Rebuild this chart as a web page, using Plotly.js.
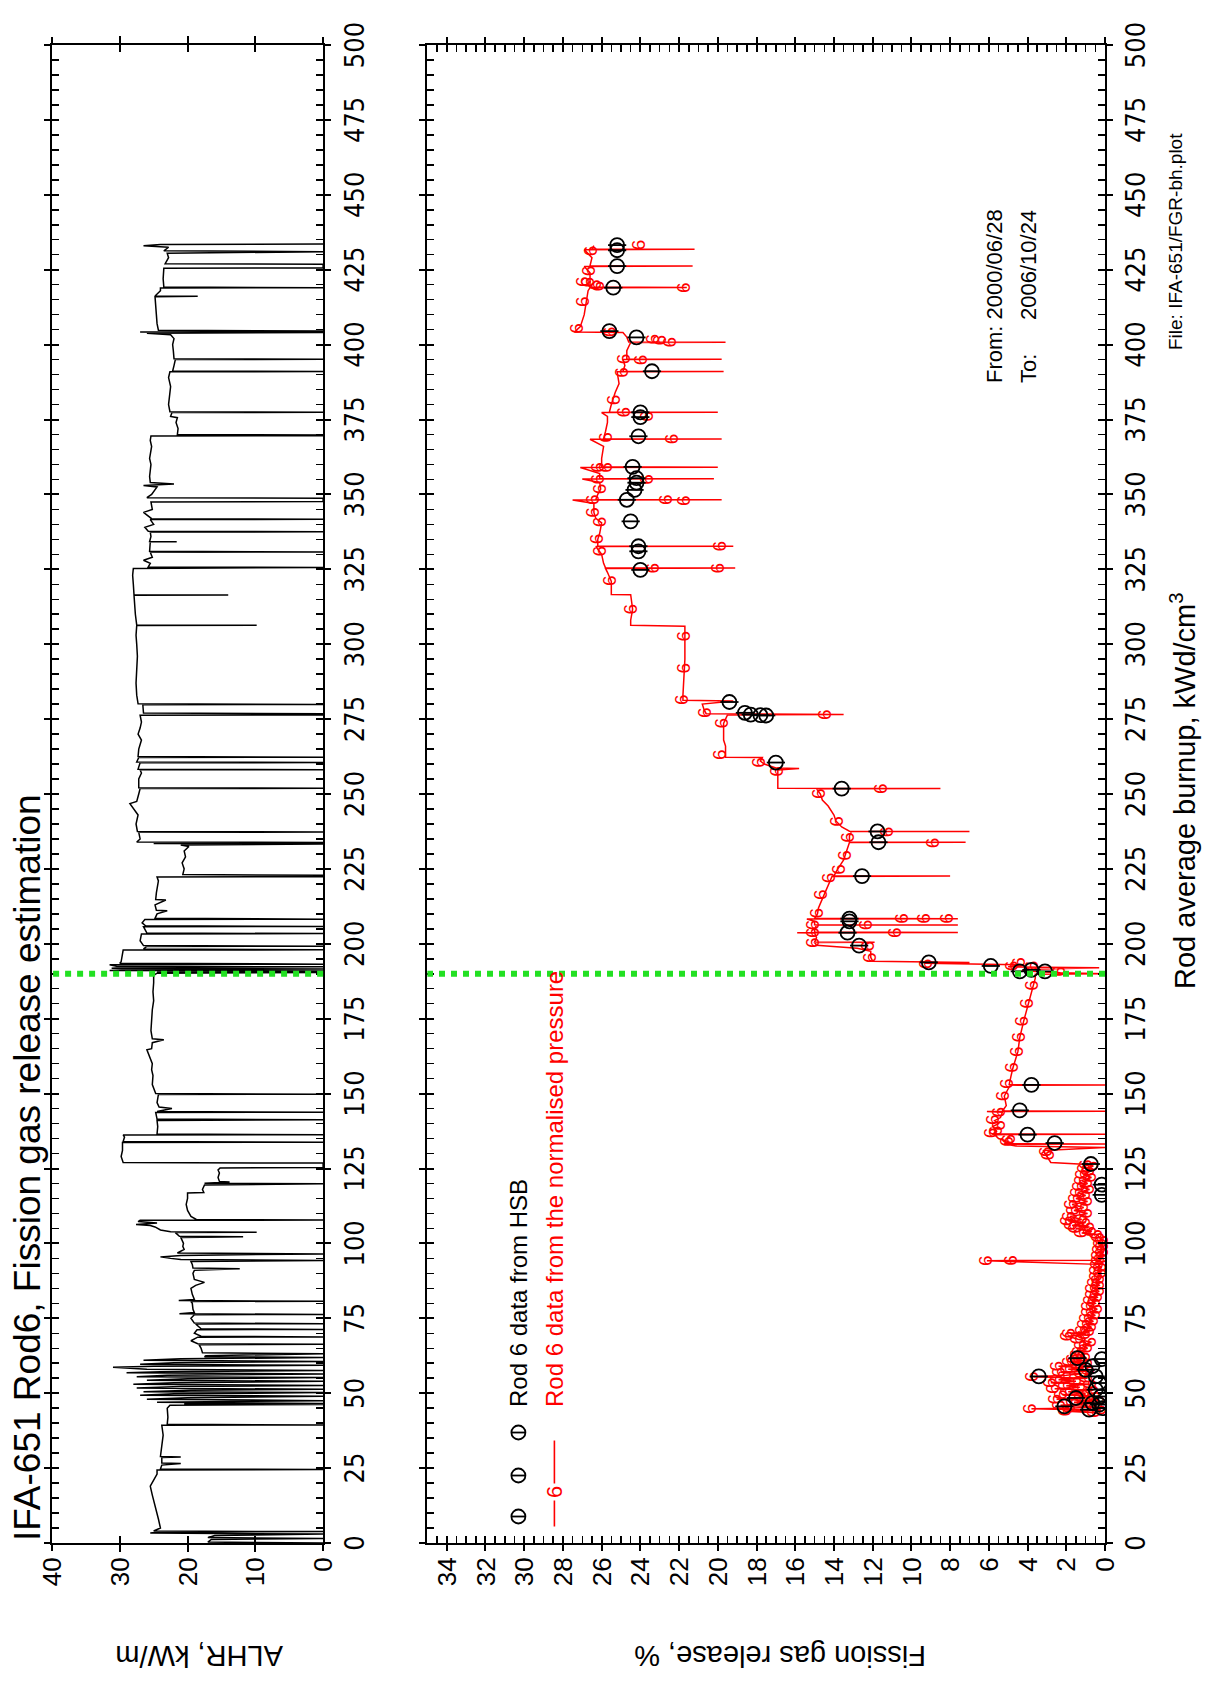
<!DOCTYPE html>
<html><head><meta charset="utf-8">
<script src="https://cdn.plot.ly/plotly-3.0.1.min.js"></script>
<style>
html,body{margin:0;padding:0;background:#fff;width:1210px;height:1686px;overflow:hidden;}
#wrap{position:absolute;left:0;top:0;width:1686px;height:1210px;transform-origin:0 0;transform:translateY(1686px) rotate(-90deg);}
</style></head>
<body><div id="wrap"></div>
<script>
// ---------- DATA (burnup kWd/cm3, value) ----------
const alhrPoints = [[0,0],[0.3,17],[1.2,16.5],[1.5,0],[1.8,17],[2.5,16],[3.0,0],[3.3,25.5],[3.6,24.5],[3.8,0],[4.0,25],[5,24],[8,24.3],[12,24.8],[16,25.2],[19,25.5],[21,25],[23,24.5],[24.4,24.5],[24.5,0],[24.7,24],[26,23.8],[26.5,21],[26.7,23.8],[28.5,23.8],[28.7,21],[28.9,24],[32,23.8],[36,23.6],[39.3,23.8],[39.4,0],[39.6,23],[42,22.9],[45,23],[46,22.6],[46.2,0],[46.4,20.5],[46.6,0],[47,24.5],[47.5,0],[48,26],[48.5,20],[49,0],[49.3,27],[49.8,22],[50.2,0],[50.5,26.5],[51,19.5],[51.3,0],[51.7,27.5],[52.2,21],[52.6,0],[53,28],[53.5,22],[54,0],[54.3,26],[54.8,20],[55.2,0],[55.5,27.5],[56,23],[56.4,0],[56.8,29],[57.2,24],[57.6,0],[58,26],[58.7,31],[59,25],[59.3,0],[59.7,27],[60.2,22],[60.6,0],[61,26.5],[61.5,21],[61.9,0],[62.2,17.5],[62.5,17.3],[63.2,0],[63.5,17.8],[65,18],[66.2,18.3],[66.3,0],[66.5,18.5],[67.5,19.5],[68.7,18.5],[68.8,0],[69,18],[70,19],[71.2,18.6],[71.3,0],[71.5,18],[72.5,18.5],[73.1,18.8],[73.2,0],[73.4,19],[75,19.5],[76.2,19],[76.3,0],[76.5,21.2],[76.9,19],[78,19.2],[80,19.3],[80.6,19.5],[80.7,0],[80.9,21.3],[81.3,19],[83,19.3],[85,19.5],[86,18.8],[87,17.5],[88,19],[90,19.2],[91,19],[91.5,12.3],[91.8,19.2],[93,19.3],[94,19.5],[94.3,0],[94.6,21],[95,22.5],[95.5,24],[96,21],[96.5,0],[96.8,21.5],[97.5,20.8],[98,20.5],[99,20.7],[100,20.6],[101,20.8],[102,21],[102.2,11.8],[102.4,21.2],[103.6,21.8],[103.7,9.8],[103.9,22.5],[104.5,24],[105.5,24.8],[106,25.5],[106.3,27.6],[106.8,24.5],[107.3,27.3],[107.7,27],[107.8,0],[108,18.7],[109,19.5],[111,20],[113,20.2],[115,20],[116.8,20],[117,17.6],[118,17.8],[119.5,17.5],[119.9,0],[120.1,17.5],[120.5,13.8],[120.7,15.3],[122,15.5],[123.5,15.3],[124.5,15.5],[125.2,15.2],[125.3,0],[126.8,0],[127,29.5],[129,29.8],[131,29.6],[133.7,29.6],[133.8,0],[134,29.5],[135.5,29.3],[136.2,29.5],[136.3,0],[136.5,24.5],[139,24.4],[141,24.5],[141.3,0],[141.5,24.5],[143.7,24.7],[143.8,0],[144,24.5],[145,22.3],[145.5,24.2],[147,24.5],[149.7,24.3],[149.8,0],[150,24.7],[153,25.2],[156,25.1],[158,25.3],[160,25.2],[162,25.5],[164.6,26],[165,25.3],[167,25.2],[168,23.5],[168.3,25.2],[171,25.4],[175,25.3],[178,25.2],[181,25],[184,25.1],[187,25],[189.5,25],[190.2,24.5],[190.4,0],[190.6,24.5],[190.9,0],[191.1,31.5],[191.4,28],[191.6,0],[191.8,31.2],[192.1,29],[192.3,0],[192.5,30.5],[193,31.5],[193.2,0],[193.5,30],[194,29.8],[196,29.7],[197.9,29.5],[198,0],[198.3,26.5],[199.1,26],[199.2,0],[199.4,26.5],[201,27],[203.3,26.8],[203.4,0],[203.6,26],[205.7,26.5],[205.8,0],[206,26.2],[207,26.7],[208.1,26.3],[208.2,0],[208.5,24.8],[210,24.5],[211,23],[211.2,24.6],[213,24.8],[214.6,23.2],[214.8,24.7],[217,24.6],[219,24.4],[221,24.3],[222.3,24.5],[222.4,0],[222.9,0],[223.1,20.7],[225,20.5],[227,20.8],[229,20.3],[231,20.5],[232.5,19.8],[233,21],[233.3,0],[233.5,25],[233.8,0],[234,27.5],[235,27],[237.2,27.2],[237.3,0],[237.5,27.4],[240,27.6],[243,27.3],[246.8,28.5],[247.5,27.5],[250,27.2],[251.8,27],[251.9,0],[252.1,27.2],[255,27.2],[257,26.8],[258,27],[258.1,0],[258.3,27.3],[260.4,27],[260.5,0],[260.7,27.5],[262.2,27.2],[262.3,0],[262.5,27.3],[265,27.2],[268,26.8],[270,27.3],[272,27],[274,26.8],[276.3,27],[276.4,0],[276.8,0],[277,26.5],[279.8,26.6],[279.9,0],[280.1,27.3],[283,27.5],[287,27.6],[292,27.5],[296,27.4],[300,27.5],[303,27.6],[306.2,27.5],[306.3,9.8],[306.4,27.5],[310,27.7],[314,27.8],[316.3,27.9],[316.4,14],[316.5,27.9],[320,28],[323,28.1],[325.3,28],[325.4,0],[325.6,0],[325.8,25.8],[327,25.5],[328,26.5],[329,25.2],[330.7,25.5],[330.8,0],[331,25.6],[334.1,25.5],[334.2,21.6],[334.3,25.6],[336,25.4],[337.4,25.5],[337.5,0],[337.7,25.8],[339,26.3],[340,25],[341.6,25.5],[341.7,0],[341.9,25.3],[344,26.5],[345,25.2],[347.5,25.4],[347.6,0],[348.7,0],[348.9,26],[350,25.3],[352.5,24.5],[353,26.5],[353.5,22],[354,25.5],[356,25.6],[358,25.5],[360,25.4],[362,25.6],[364,25.5],[366,25.3],[368,25.5],[369.5,25.4],[369.6,0],[369.8,0],[370,21.5],[372,21.4],[374,21.7],[375.6,21.5],[376,22.5],[377.3,22.3],[377.4,0],[377.6,22.6],[380,22.8],[383,22.7],[386,22.5],[389,22.8],[390.9,22.6],[391,0],[391.2,22.2],[393,22],[395,21.8],[395.1,0],[395.3,22],[398,22.1],[400,22.2],[402,22],[403.3,22.5],[403.8,26],[404,0],[404.2,27],[404.5,0],[404.8,24.3],[407,24.5],[410,24.6],[413,24.7],[416,24.8],[416.1,18.5],[416.2,24.8],[418,24],[418.9,24],[419,0],[419.2,23.5],[422,23.6],[425.5,23.5],[425.6,0],[426.8,0],[427,23.3],[429,22.8],[430.5,23],[431,0],[431.3,23.5],[432.5,22.8],[433,26.5],[433.4,24],[433.6,0]];

const fgrPoints = [[43.5,0.5],[44,2.0],[44.3,0.2],[44.8,3.8],[45,1.8],[45.5,0.4],[46,2.3],[46.5,0.8],[47,1.6],[47.5,0.3],[48,2.5],[48.5,1.2],[49,0.5],[49.5,2.2],[50,1.0],[50.5,1.9],[51,0.6],[51.5,2.6],[52,1.3],[52.5,2.0],[53,0.7],[53.5,2.8],[54,1.5],[54.5,2.4],[55,0.9],[55.5,3.7],[56,2.0],[56.5,1.2],[57,2.3],[57.5,0.8],[58,1.9],[58.5,1.1],[59,2.4],[59.5,1.4],[60,0.9],[60.5,1.8],[61,1.2],[61.5,1.6],[62,1.0],[63,1.4],[64,1.3],[65,0.9],[66,1.2],[67,0.7],[68,1.4],[69,1.9],[69.5,1.0],[70,1.8],[70.5,0.8],[71,1.1],[72,0.7],[73,1.0],[74,0.6],[75,0.9],[76,0.5],[77,0.8],[78,0.4],[79,0.8],[80,0.5],[81,0.7],[82,0.4],[83,0.6],[84,0.3],[85,0.6],[86,0.3],[87,0.5],[88,0.3],[89,0.4],[90,0.2],[91,0.4],[92,0.2],[93,0.35],[94.2,6.1],[94.3,4.8],[94.4,0.3],[95,0.15],[96,0.3],[97,0.1],[98,0.25],[99,0.1],[100,0.2],[101,0.1],[102,0.3],[103,0.4],[103.5,1.2],[104,0.7],[105,1.5],[105.5,0.8],[106,1.7],[107,1.0],[107.5,1.9],[108,1.2],[109,1.8],[110,0.9],[111,1.6],[112,1.1],[113,1.7],[114,0.9],[115,1.5],[116,1.0],[117,1.4],[118,0.8],[119,1.3],[120,0.9],[121,1.2],[122,0.7],[123,1.1],[124,0.8],[125,1.0],[125.8,0.6],[126.3,0.9],[127,2.8],[128,2.9],[129,3.0],[130,3.1],[131,3.2],[132,0],[132.5,4.6],[133.1,5.1],[133.2,0],[133.3,5.2],[134,5.0],[135,5.5],[136.3,5.7],[136.4,0],[136.5,5.8],[137.5,5.6],[139,5.8],[140,5.5],[141,5.7],[142,5.4],[143.8,5.3],[144,6.1],[144.1,0],[144.2,5.3],[146,5.1],[149.2,5.2],[152.8,4.9],[152.9,0],[153,4.95],[156,4.85],[158.7,4.75],[164,4.5],[168.8,4.4],[174.2,4.2],[180.1,3.95],[186.1,3.7],[188.5,3.6],[189.8,3.6],[190,0],[190.3,2.3],[190.6,3.5],[191,4.3],[191.5,3.8],[192,0.3],[192.3,5.0],[193,4.4],[193.5,9.3],[193.8,7.0],[194.2,12.0],[195.5,12.1],[197.5,12.1],[198.5,12.8],[199.5,14.9],[200.4,15.0],[200.5,11.9],[200.6,15.0],[202,14.9],[203.6,15.0],[203.7,15.9],[203.8,7.6],[203.9,15.0],[205,15.0],[206.2,14.9],[206.3,7.6],[206.4,15.0],[207.5,15.0],[208.3,15.4],[208.4,7.6],[208.5,15.0],[210,14.85],[212,14.8],[215,14.6],[218,14.4],[221,14.2],[222.5,14.1],[222.6,8.0],[222.7,14.0],[225,13.8],[228,13.5],[230,13.4],[232,13.3],[233.8,13.2],[233.9,7.2],[234,13.2],[236,13.2],[237.4,13.1],[237.5,7.0],[237.6,13.2],[239,13.6],[241,13.9],[243,14.0],[246,14.3],[248,14.6],[250,14.7],[251.7,14.9],[251.8,8.5],[251.9,16.9],[253,16.9],[256,16.9],[258,16.9],[258.5,15.8],[258.7,17.0],[260,17.6],[261,17.8],[262.2,17.7],[262.3,19.6],[263,19.6],[266,19.6],[268,19.7],[270,19.7],[273.6,19.7],[275,19.6],[276.4,19.5],[276.5,13.5],[276.6,19.8],[276.8,20.6],[278,20.7],[280,20.8],[281,19.2],[281.3,21.8],[283,21.8],[290,21.75],[295,21.7],[302,21.7],[306,21.7],[306.3,24.5],[308,24.5],[311.7,24.4],[316.5,24.5],[316.6,25.5],[318,25.5],[321,25.5],[324,25.7],[325.3,25.8],[325.4,19.1],[325.5,25.8],[327,25.9],[330,26.0],[332.6,26.3],[332.7,19.2],[332.8,26.2],[335,26.2],[337,26.1],[340.5,26.0],[342,26.3],[344,26.4],[347,26.4],[348.1,27.5],[348.2,19.8],[348.3,26.3],[350,26.2],[351.8,26.05],[354,26.1],[355.1,27.0],[355.2,20.2],[355.3,26.1],[357,26.1],[359,27.1],[359.1,20.0],[359.2,26.0],[362,26.0],[366,25.9],[368.4,26.6],[368.5,19.8],[368.6,25.9],[371,25.8],[374,25.7],[376,25.7],[377.3,26.0],[377.4,20.0],[377.5,25.6],[380,25.5],[384,25.3],[387,25.1],[390.9,25.2],[391,19.7],[391.1,24.9],[393,24.8],[395,24.9],[395.1,19.8],[395.2,24.7],[398,24.7],[400.7,24.5],[400.8,19.6],[400.9,24.6],[402.5,24.7],[404,24.9],[404.2,27.4],[406,27.1],[410,26.9],[414,26.8],[418,26.7],[419,26.6],[419.1,21.6],[419.2,26.6],[421,26.6],[424,26.6],[426.1,26.9],[426.2,21.3],[426.3,26.6],[429,26.5],[431.7,26.9],[431.8,21.2],[431.9,26.5],[433,26.4]];

// "6" plotting symbols of the pressure-derived series above 127 kWd/cm3
const fgrMarkPoints = [[433.3,24.0],[431.3,26.5],[424.6,26.6],[421,26.9],[420.8,26.65],[420,26.3],[419.5,26.1],[419,21.7],[414.3,26.9],[405.4,27.2],[404.2,25.5],[401.8,23.3],[401.5,22.9],[400.8,22.4],[395.2,24.8],[394.9,23.9],[390.7,24.9],[381.5,25.3],[377.4,24.8],[376,23.6],[369,25.7],[368.5,22.3],[359,26.1],[359,25.7],[355.1,26.1],[355,23.6],[351.8,26.0],[348.2,26.4],[348.2,22.6],[347.9,21.7],[344,26.4],[340.8,26.0],[335.1,26.2],[332.7,19.8],[331,26.0],[325.4,23.3],[325.4,19.9],[321.2,25.5],[311.7,24.4],[302.7,21.7],[292,21.7],[281.5,21.8],[277.1,20.6],[273.6,19.7],[276.5,14.4],[263.1,19.8],[260.5,17.8],[257.5,16.9],[250.1,14.7],[251.8,11.5],[240.8,13.8],[235.5,13.2],[237.3,11.2],[233.7,8.8],[229.5,13.35],[224.8,13.7],[222,14.2],[216.4,14.6],[210.2,14.8],[208.5,10.4],[208.5,9.3],[208.5,8.1],[206.3,12.3],[206.3,15.0],[203.7,10.8],[203.7,15.0],[200.4,15.0],[199.2,12.2],[195.4,12.05],[193.3,9.2],[193.8,4.4],[192.6,4.75],[192.6,3.7],[190.8,2.3],[186.1,3.7],[180.1,3.95],[174.2,4.2],[168.8,4.4],[164,4.5],[158.7,4.75],[153.3,5.0],[149.2,5.2],[143.8,5.4],[141.25,5.7],[139.4,5.4],[137.5,5.55],[136.9,5.8],[134.75,4.9],[134,5.0],[130.6,3.0],[129.4,2.9]];

const hsbPoints = [[433.2,25.2],[431.5,25.2],[426.2,25.2],[419,25.4],[404.5,25.6],[402.4,24.2],[391.1,23.4],[377.4,24.0],[375.8,24.0],[369.4,24.1],[359.2,24.4],[355.4,24.2],[353.9,24.2],[351.5,24.3],[348.2,24.7],[341,24.5],[332.7,24.1],[331,24.1],[324.8,24.0],[280.7,19.4],[277.1,18.6],[276.5,18.3],[276.3,17.8],[276.2,17.5],[260.5,17.0],[251.8,13.6],[237.5,11.75],[233.9,11.7],[222.6,12.55],[208.4,13.2],[207.5,13.2],[203.7,13.3],[199.4,12.7],[193.8,9.1],[192.6,5.9],[190.8,4.4],[191.3,3.8],[190.8,3.1],[152.9,3.8],[144.4,4.4],[136.3,4.0],[133.5,2.6],[126.5,0.73],[119.6,0.17],[116.2,0.17],[61.7,1.42],[55.6,3.42],[48.4,1.5],[45.6,2.1],[57.8,1.0],[61.4,0.17],[59,0.65],[55.6,0.48],[53.4,0.3],[51.2,0.48],[48.9,0.22],[46.7,0.65],[45,0.14],[44.5,0.82],[46.2,0.3]];

const rampEndBurnup = 190;          // green dotted marker
const burnupTicks = [0,500,25,5];   // range min, max, major, minor
const alhrRange = [0,40,10];
const fgrRange = [0,35,2,0.5];

// ---------- helpers ----------
const col = (a,i)=>a.map(p=>p[i]);
const alhrBurnup = col(alhrPoints,0), alhrValue = col(alhrPoints,1);
const fgrBurnup = col(fgrPoints,0), fgrValue = col(fgrPoints,1);
const denseMarks = fgrPoints.filter(p=>p[0]<127);
const markBurnup = col(denseMarks,0).concat(col(fgrMarkPoints,0));
const markValue = col(denseMarks,1).concat(col(fgrMarkPoints,1));
const hsbBurnup = col(hsbPoints,0), hsbValue = col(hsbPoints,1);

// plot geometry in the unrotated page (1686 x 1210)
const W=1686,H=1210, L=142.5, R=45.2, T=51.6, B=105.4;
const PW=W-L-R, PH=H-T-B;
const px = ox => (ox-L)/PW;
const py = oy => (H-B-oy)/PH;

const FONT = 'Liberation Sans, Arial, sans-serif';
const NARROW = 'Liberation Sans Narrow, Arial Narrow, DejaVu Sans Condensed, Liberation Sans, sans-serif';

const base = {showgrid:false, zeroline:false, showline:true, linecolor:'black', linewidth:2,
  mirror:'allticks', ticks:'inside', ticklen:7, tickwidth:2, tickcolor:'black'};
const outer = {showgrid:false, zeroline:false, showline:false, showticklabels:false,
  mirror:'allticks', ticks:'outside', ticklen:7, tickwidth:2, tickcolor:'black'};

const bx = {range:[burnupTicks[0],burnupTicks[1]], tickmode:'linear', tick0:0, dtick:burnupTicks[2]};
const xMain = Object.assign({}, base, bx, {
  minor:{ticks:'inside', dtick:burnupTicks[3], ticklen:7, tickwidth:1.5, tickcolor:'black'},
  tickfont:{family:NARROW, size:27, color:'black'}, ticklabelstandoff:6});

const alhrDomain=[py(322.7),1], fgrDomain=[0,py(427)];

const layout = {
  width:W, height:H, margin:{l:L, r:R, t:T, b:B}, paper_bgcolor:'white', plot_bgcolor:'white',
  showlegend:false, font:{family:FONT, color:'black'},
  xaxis: Object.assign({}, xMain, {domain:[0,1], anchor:'y'}),
  xaxis3: Object.assign({}, outer, bx, {overlaying:'x', anchor:'y'}),
  yaxis: Object.assign({}, base, {domain:alhrDomain, anchor:'x', range:[alhrRange[0],alhrRange[1]],
    tickmode:'linear', tick0:0, dtick:alhrRange[2], tickfont:{family:FONT,size:26,color:'black'}, ticklabelstandoff:7}),
  yaxis3: Object.assign({}, outer, {overlaying:'y', anchor:'x', range:[alhrRange[0],alhrRange[1]], tickmode:'linear', tick0:0, dtick:alhrRange[2]}),
  xaxis2: Object.assign({}, xMain, {domain:[0,1], anchor:'y2'}),
  xaxis4: Object.assign({}, outer, bx, {overlaying:'x2', anchor:'y2'}),
  yaxis2: Object.assign({}, base, {domain:fgrDomain, anchor:'x2', range:[fgrRange[0],fgrRange[1]],
    tickmode:'linear', tick0:0, dtick:fgrRange[2],
    minor:{ticks:'inside', dtick:fgrRange[3], ticklen:7, tickwidth:1.5, tickcolor:'black'},
    tickfont:{family:FONT,size:26,color:'black'}, ticklabelstandoff:7}),
  yaxis4: Object.assign({}, outer, {overlaying:'y2', anchor:'x2', range:[fgrRange[0],fgrRange[1]], tickmode:'linear', tick0:0, dtick:fgrRange[2]}),
  shapes: [
    {type:'line', xref:'x', yref:'y domain', x0:rampEndBurnup, x1:rampEndBurnup, y0:0, y1:1, line:{color:'#22e022', width:6, dash:'dot'}},
    {type:'line', xref:'x2', yref:'y2 domain', x0:rampEndBurnup, x1:rampEndBurnup, y0:0, y1:1, line:{color:'#22e022', width:6, dash:'dot'}},
    {type:'line', xref:'paper', yref:'paper', x0:px(159), x1:px(245), y0:py(554), y1:py(554), line:{color:'red', width:1.6}}
  ],
  annotations: [
    {text:'IFA-651 Rod6, Fission gas release estimation', xref:'paper', yref:'paper', x:px(143), y:py(27), xanchor:'left', yanchor:'middle', showarrow:false, font:{family:FONT, size:37, color:'black'}},
    {text:'ALHR, kW/m', xref:'paper', yref:'paper', x:px(30), y:py(199), xanchor:'center', yanchor:'middle', textangle:-90, showarrow:false, font:{family:FONT, size:29, color:'black'}},
    {text:'Fission gas release, %', xref:'paper', yref:'paper', x:px(30), y:py(780), xanchor:'center', yanchor:'middle', textangle:-90, showarrow:false, font:{family:FONT, size:29, color:'black'}},
    {text:'Rod average burnup, kWd/cm<sup>3</sup>', xref:'paper', yref:'paper', x:px(895), y:py(1183), xanchor:'center', yanchor:'middle', showarrow:false, font:{family:FONT, size:29, color:'black'}},
    {text:'File: IFA-651/FGR-bh.plot', xref:'paper', yref:'paper', x:px(1444), y:py(1175), xanchor:'center', yanchor:'middle', showarrow:false, font:{family:FONT, size:19, color:'black'}},
    {text:'From: 2000/06/28', xref:'paper', yref:'paper', x:px(1301), y:py(994), xanchor:'left', yanchor:'middle', showarrow:false, font:{family:FONT, size:22, color:'black'}},
    {text:'To:', xref:'paper', yref:'paper', x:px(1301), y:py(1028), xanchor:'left', yanchor:'middle', showarrow:false, font:{family:FONT, size:22, color:'black'}},
    {text:'2006/10/24', xref:'paper', yref:'paper', x:px(1364), y:py(1028), xanchor:'left', yanchor:'middle', showarrow:false, font:{family:FONT, size:22, color:'black'}},
    {text:'Rod 6 data from HSB', xref:'paper', yref:'paper', x:px(277), y:py(518), xanchor:'left', yanchor:'middle', showarrow:false, font:{family:FONT, size:24, color:'black'}},
    {text:'Rod 6 data from the normalised pressure', xref:'paper', yref:'paper', x:px(277), y:py(554), xanchor:'left', yanchor:'middle', showarrow:false, font:{family:FONT, size:24, color:'red'}},
    {text:'6', xref:'paper', yref:'paper', x:px(194), y:py(554), xanchor:'center', yanchor:'middle', showarrow:false, bgcolor:'white', borderpad:2, font:{family:FONT, size:22, color:'red'}}
  ]
};
// legend symbols for HSB data
[169,210,253].forEach(ox=>{
  layout.shapes.push({type:'circle', xref:'paper', yref:'paper', xsizemode:'pixel', ysizemode:'pixel', xanchor:px(ox), yanchor:py(518), x0:-7, x1:7, y0:-7, y1:7, line:{color:'black', width:1.8}});
  layout.shapes.push({type:'line', xref:'paper', yref:'paper', xsizemode:'pixel', ysizemode:'pixel', xanchor:px(ox), yanchor:py(518), x0:0, x1:0, y0:-7, y1:7, line:{color:'black', width:1.8}});
});

const traces = [
  {x:alhrBurnup, y:alhrValue, xaxis:'x', yaxis:'y', mode:'lines', line:{color:'black', width:1.5}, hoverinfo:'skip'},
  {x:fgrBurnup, y:fgrValue, xaxis:'x2', yaxis:'y2', mode:'lines', line:{color:'red', width:1.5}, hoverinfo:'skip'},
  {x:markBurnup, y:markValue, xaxis:'x2', yaxis:'y2', mode:'text', text:markBurnup.map(()=>'6'), textposition:'middle center', textfont:{family:FONT, size:19, color:'red'}, hoverinfo:'skip', cliponaxis:false},
  {x:hsbBurnup, y:hsbValue, xaxis:'x2', yaxis:'y2', mode:'markers', marker:{symbol:'circle-open', size:14, color:'black', line:{width:1.8, color:'black'}}, hoverinfo:'skip'},
  {x:hsbBurnup, y:hsbValue, xaxis:'x2', yaxis:'y2', mode:'markers', marker:{symbol:'line-ns', size:13, color:'black', line:{width:1.8, color:'black'}}, hoverinfo:'skip'},
  {x:[], y:[], xaxis:'x3', yaxis:'y'},
  {x:[], y:[], xaxis:'x', yaxis:'y3'},
  {x:[], y:[], xaxis:'x4', yaxis:'y2'},
  {x:[], y:[], xaxis:'x2', yaxis:'y4'}
];

Plotly.newPlot('wrap', traces, layout, {staticPlot:true, displayModeBar:false});
</script></body></html>
